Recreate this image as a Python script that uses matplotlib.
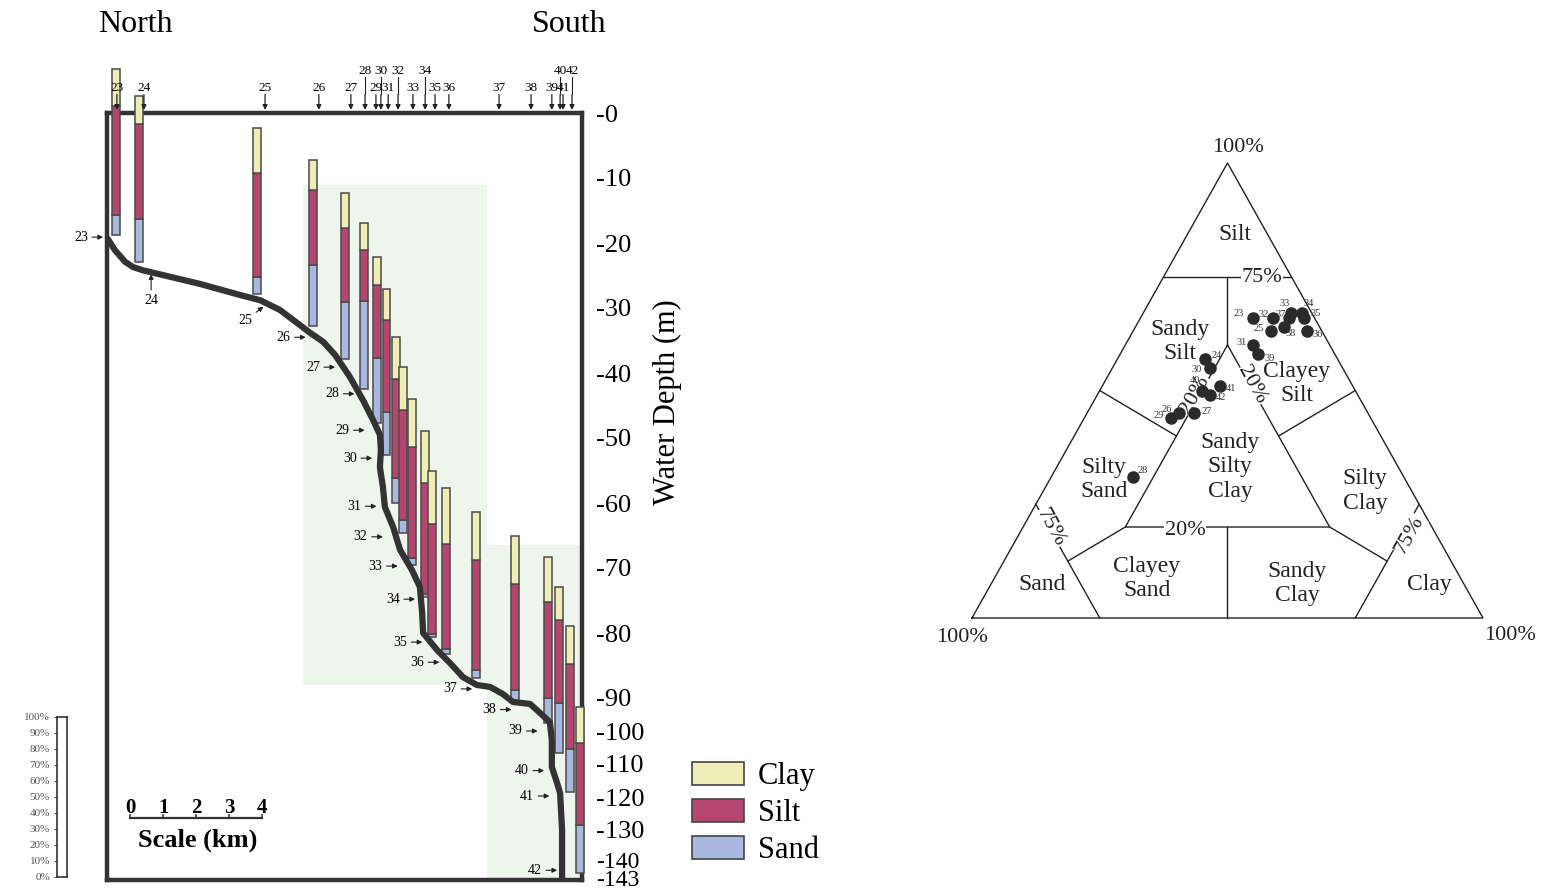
import numpy as np
import matplotlib.pyplot as plt
from matplotlib.patches import Patch
from matplotlib.transforms import ScaledTranslation

plt.rcParams['font.family'] = ['Liberation Serif', 'DejaVu Serif']

W, H = 1556, 892

# cores 23-42
stations = list(range(23, 43))
station_km = [0.30, 1.12, 4.79, 6.42, 7.39, 7.82, 8.15, 8.30, 8.52, 8.82,
              9.27, 9.64, 9.94, 10.36, 11.88, 12.85, 13.48, 13.73, 13.82, 14.09]
core_km = [0.26, 0.97, 4.55, 6.24, 7.20, 7.79, 8.17, 8.47, 8.77, 8.98,
           9.24, 9.65, 9.85, 10.26, 11.17, 12.35, 13.35, 13.71, 14.03, 14.33]
core_depth = [18.8, 22.9, 27.8, 32.8, 37.8, 42.5, 47.7, 52.6, 60.0, 64.6,
              69.5, 74.5, 80.6, 83.2, 86.9, 91.2, 97.6, 106.7, 118.5, 143.0]
clay = [22, 17, 27, 18, 21, 16, 17, 19, 25, 26, 29, 31, 32, 34, 29, 29, 27, 20, 23, 22]
silt = [66, 57, 63, 45, 45, 31, 44, 55, 60, 66, 67, 67, 66, 63, 66, 64, 58, 50, 51, 49]
sand = [12, 26, 10, 37, 34, 53, 39, 26, 15, 8, 4, 2, 2, 3, 5, 7, 15, 30, 26, 29]

# seafloor profile along the transect
profile_km = [0.0, 0.24, 0.55, 0.79, 1.09, 2.82, 4.03, 4.64, 5.24, 5.76, 6.15, 6.55,
              6.91, 7.36, 7.76, 8.06, 8.27, 8.30, 8.27, 8.36, 8.42, 8.67, 8.88, 9.24,
              9.48, 9.55, 9.58, 10.0, 10.39, 10.79, 11.21, 11.61, 12.0, 12.30, 12.82,
              13.12, 13.42, 13.48, 13.48, 13.64, 13.73, 13.79, 13.79]
profile_depth = [19.2, 21.1, 22.9, 23.7, 24.2, 26.3, 28.0, 28.8, 30.3, 32.3, 33.8, 35.2,
                 37.2, 40.6, 44.2, 47.2, 49.5, 51.8, 54.5, 57.5, 60.6, 63.7, 67.2, 70.3,
                 72.9, 76.9, 80.0, 82.6, 84.6, 86.8, 88.0, 88.3, 89.4, 91.2, 91.8,
                 94.5, 97.3, 102.7, 110.9, 115.8, 118.8, 130.0, 145.0]

# station labels along the profile
label_depth = [19.1, 24.5, 29.8, 34.5, 39.1, 43.2, 48.8, 53.1, 60.5, 65.2,
               69.7, 74.8, 81.4, 84.5, 88.6, 93.5, 100.0, 112.0, 119.7, 142.2]
label_gap = [0.12, 0.0, 0.3, 0.33, 0.25, 0.15, 0.4, 0.25, 0.25, 0.4,
             0.36, 0.18, 0.25, 0.3, 0.65, 0.75, 0.4, 0.27, 0.33, 0.15]

depth_ticks = [0, 10, 20, 30, 40, 50, 60, 70, 80, 90, 100, 110, 120, 130, 140, 143]

colors = {'Clay': '#efedb6', 'Silt': '#b4466f', 'Sand': '#a8b8df'}
edge = '#4a4a4a'
dark = '#333333'


# depth axis is stretched above 90 m
def fwd(d):
    d = np.asarray(d, dtype=float)
    return np.where(d <= 90, d * 6.5, 585 + (d - 90) * 3.3)


def inv(u):
    u = np.asarray(u, dtype=float)
    return np.where(u <= 585, u / 6.5, 90 + (u - 585) / 3.3)


fig = plt.figure(figsize=(W / 100, H / 100), dpi=100)

# ---------------- cross section ----------------
ax = fig.add_axes([107 / W, 12 / H, 475 / W, 767 / H])
ax.set_yscale('function', functions=(fwd, inv))
ax.set_xlim(0, 475 / 33)
ax.set_ylim(float(inv(767)), 0)

# faint green background of the scan
ax.fill_between([5.94, 11.52], 11.1, 88.0, color='#eef5ec', lw=0, zorder=0)
ax.fill_between([11.52, 14.39], 66.5, 145, color='#eef5ec', lw=0, zorder=0)

core_len = 166  # length of a 100 % core column
for i in range(len(stations)):
    base = fwd(core_depth[i])
    levels = [base]
    for v in (sand[i], silt[i], clay[i]):
        levels.append(levels[-1] - v / 100 * core_len)
    d = inv(levels)
    for j, name in enumerate(['Sand', 'Silt', 'Clay']):
        ax.bar(core_km[i], d[j] - d[j + 1], bottom=d[j + 1], width=0.24,
               color=colors[name], edgecolor=edge, linewidth=1.1,
               clip_on=False, zorder=3)

ax.plot(profile_km, profile_depth, color=dark, lw=4.5, solid_capstyle='butt', zorder=4)

for i, s in enumerate(stations):
    d = label_depth[i]
    xp = np.interp(d, profile_depth, profile_km)
    arrow = dict(arrowstyle='-|>', color='#222', lw=0.8, mutation_scale=7,
                 shrinkA=1, shrinkB=0)
    if s == 24:
        ax.annotate(str(s), xy=(xp, d + 0.3), xytext=(0, -19), textcoords='offset points',
                    ha='center', va='center', fontsize=10, arrowprops=arrow,
                    annotation_clip=False)
    elif s == 25:
        ax.annotate(str(s), xy=(xp - label_gap[i], d), xytext=(-13, -10),
                    textcoords='offset points', ha='center', va='center', fontsize=10,
                    arrowprops=arrow, annotation_clip=False)
    else:
        ax.annotate(str(s), xy=(xp - label_gap[i], d), xytext=(-11, 0),
                    textcoords='offset points', ha='right', va='center', fontsize=10,
                    arrowprops=arrow, annotation_clip=False, zorder=5)

# station arrows along the top
trans = ax.get_xaxis_transform()
upper_row = [28, 30, 32, 34, 40, 42]
for s, km in zip(stations, station_km):
    ax.annotate('', xy=(km, 1.004), xycoords=trans, xytext=(km, 1.024), textcoords=trans,
                arrowprops=dict(arrowstyle='-|>', color='#222', lw=0.9, mutation_scale=7,
                                shrinkA=0, shrinkB=0), annotation_clip=False)
    if s in upper_row:
        ax.plot([km, km], [1.025, 1.047], transform=trans, color='#222', lw=0.8,
                clip_on=False)
        ax.text(km, 1.0548, str(s), transform=trans, ha='center', va='center', fontsize=9.5)
    else:
        ax.text(km, 1.0326, str(s), transform=trans, ha='center', va='center', fontsize=9.5)

# scale bar
ax.plot([0.7, 4.7], [0.0808, 0.0808], transform=trans, color=dark, lw=1.6)
for k in range(5):
    ax.plot([0.7 + k, 0.7 + k], [0.0808, 0.0845], transform=trans, color=dark, lw=1.2)
    ax.text(0.7 + k, 0.0945, str(k), transform=trans, ha='center', va='center',
            fontsize=15, fontweight='bold')
ax.text(2.75, 0.052, 'Scale (km)', transform=trans, ha='center', va='center',
        fontsize=19, fontweight='bold')

for sp in ax.spines.values():
    sp.set_linewidth(3.2)
    sp.set_color(dark)
ax.set_xticks([])
ax.yaxis.tick_right()
ax.set_yticks(depth_ticks)
ax.set_yticklabels(['-%d' % t for t in depth_ticks])
ax.yaxis.set_minor_locator(plt.NullLocator())
ax.tick_params(axis='y', length=0, pad=10, labelsize=19)
ticklabels = ax.get_yticklabels()
ticklabels[-2].set_fontsize(17)
ticklabels[-1].set_fontsize(17)
ticklabels[-2].set_transform(ticklabels[-2].get_transform()
                             + ScaledTranslation(0, 2 / 72, fig.dpi_scale_trans))
ticklabels[-1].set_transform(ticklabels[-1].get_transform()
                             + ScaledTranslation(0, -4 / 72, fig.dpi_scale_trans))

fig.text(135 / W, 1 - 25 / H, 'North', ha='center', va='center', fontsize=23)
fig.text(569 / W, 1 - 25 / H, 'South', ha='center', va='center', fontsize=23)
fig.text(667 / W, 1 - 402 / H, 'Water Depth (m)', rotation=90, ha='center', va='center',
         fontsize=22)

# percentage column
pax = fig.add_axes([57 / W, 1 - 877 / H, 10 / W, 160 / H])
pax.set_ylim(0, 100)
pax.set_xticks([])
pax.set_yticks(range(0, 101, 10))
pax.set_yticklabels(['%d%%' % v for v in range(0, 101, 10)])
pax.tick_params(axis='y', length=2, labelsize=8, pad=3, colors='#555')
for sp in pax.spines.values():
    sp.set_linewidth(1.2)
    sp.set_color(dark)

handles = [Patch(facecolor=colors[k], edgecolor='#444', lw=1.2, label=k)
           for k in ['Clay', 'Silt', 'Sand']]
fig.legend(handles=handles, loc='upper left', bbox_to_anchor=(692 / W, 1 - 762 / H),
           frameon=False, fontsize=22, handlelength=1.7, handleheight=0.8,
           labelspacing=0.25, handletextpad=0.45, borderaxespad=0, borderpad=0)

# ---------------- ternary diagram (Shepard) ----------------
tax = fig.add_axes([972 / W, 1 - 618 / H, 511 / W, 455 / H])
tax.set_xlim(0, 1)
tax.set_ylim(0, 1)
tax.axis('off')


def tern(c, s):
    c = np.asarray(c, dtype=float)
    s = np.asarray(s, dtype=float)
    return c + s / 2, s


segments = [
    [(0, 0), (1, 0), (0, 1), (0, 0)],
    [(0, .75), (.25, .75)],
    [(0, .25), (.25, 0)],
    [(.75, .25), (.75, 0)],
    [(.2, .6), (.2, .2), (.6, .2), (.2, .6)],
    [(.2, .6), (.125, .75)],
    [(.2, .2), (.125, .125)],
    [(.6, .2), (.75, .125)],
    [(0, .5), (.2, .4)],
    [(.5, .5), (.4, .4)],
    [(.5, 0), (.4, .2)],
]
for seg in segments:
    c, s = zip(*seg)
    x, y = tern(c, s)
    tax.plot(x, y, color='#222', lw=1.0, clip_on=False, zorder=2)

regions = [('Silt', .515, .842), ('Sandy\nSilt', .407, .607), ('Clayey\nSilt', .635, .516),
           ('Sandy\nSilty\nClay', .505, .332), ('Silty\nSand', .258, .305),
           ('Silty\nClay', .769, .279), ('Sand', .137, .073), ('Clayey\nSand', .342, .086),
           ('Sandy\nClay', .636, .075), ('Clay', .896, .073)]
for txt, x, y in regions:
    tax.text(x, y, txt, ha='center', va='center', fontsize=17, color='#222', zorder=3)

wbox = dict(facecolor='white', edgecolor='none', pad=0.5)
for txt, x, y, rot in [('75%', .568, .749, 0), ('75%', .153, .198, -61),
                       ('75%', .857, .182, 61), ('20%', .436, .49, 61),
                       ('20%', .548, .512, -61), ('20%', .417, .193, 0)]:
    tax.text(x, y, txt, ha='center', va='center', rotation=rot, fontsize=16,
             color='#222', bbox=wbox, zorder=3)

fig.text(1238 / W, 1 - 148 / H, '100%', ha='center', va='center', fontsize=16, color='#222')
fig.text(962 / W, 1 - 638 / H, '100%', ha='center', va='center', fontsize=16, color='#222')
fig.text(1510 / W, 1 - 635 / H, '100%', ha='center', va='center', fontsize=16, color='#222')

px, py = tern(np.array(clay) / 100, np.array(silt) / 100)
tax.plot(px, py, 'o', color='#2a2a2a', ms=8, clip_on=False, zorder=5)
dot_offsets = [(-10, 3), (9, 2), (-9, 2), (-9, 3), (9, 1), (7, 5), (-9, 2), (-9, -1),
               (-8, 2), (-7, 2), (-5, 7), (5, 7), (8, 3), (8, -2), (-6, 2), (5, -5),
               (8, -3), (-5, 7), (8, -2), (8, -2)]
for s, x, y, off in zip(stations, px, py, dot_offsets):
    tax.annotate(str(s), (x, y), xytext=off, textcoords='offset points', ha='center',
                 va='center', fontsize=7.5, color='#333', zorder=6)

fig.savefig('out.png', dpi=100)
